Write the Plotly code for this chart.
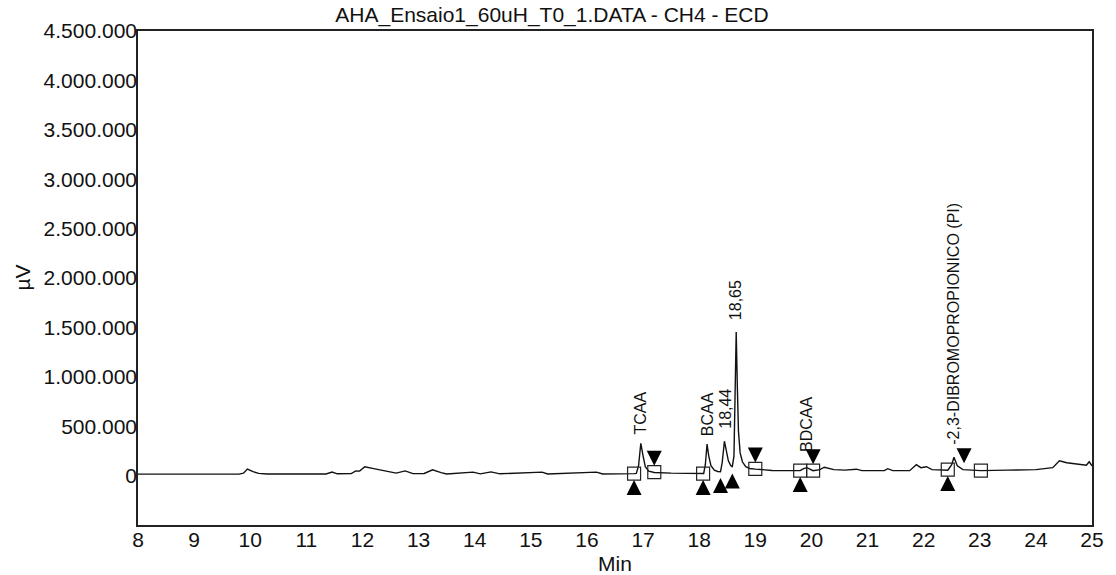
import plotly.graph_objects as go

# Chromatogram trace (time in min, signal in µV)
time_min = [8.00, 9.00, 9.80, 9.88, 9.95, 10.05, 10.15, 10.30, 11.35, 11.46, 11.55, 11.80,
            11.88, 11.95, 12.04, 12.20, 12.40, 12.60, 12.76, 12.90, 13.10, 13.25, 13.40,
            13.50, 13.97, 14.10, 14.29, 14.45, 15.20, 15.30, 16.17, 16.28, 16.84, 16.88,
            16.92, 16.96, 17.00, 17.04, 17.10, 17.20, 17.50, 17.80, 18.07, 18.08, 18.11,
            18.14, 18.17, 18.21, 18.27, 18.33, 18.38, 18.41, 18.45, 18.48, 18.52, 18.56,
            18.59, 18.62, 18.64, 18.66, 18.68, 18.70, 18.73, 18.77, 18.83, 18.90, 19.00,
            19.30, 19.80, 19.86, 19.92, 20.03, 20.15, 20.23, 20.40, 20.60, 20.80, 20.90,
            21.30, 21.36, 21.45, 21.75, 21.87, 21.95, 22.05, 22.15, 22.43, 22.50, 22.54,
            22.60, 22.70, 23.02, 23.50, 24.00, 24.30, 24.42, 24.55, 24.80, 24.90, 24.95,
            25.00]
signal_uv = [15000, 15000, 15000, 25000, 66000, 40000, 22000, 16000, 16000, 36000, 18000, 20000,
             48000, 45000, 90000, 70000, 45000, 25000, 48000, 20000, 22000, 58000, 30000,
             16000, 35000, 18000, 38000, 18000, 35000, 16000, 35000, 16000, 20000, 22000,
             100000, 327000, 200000, 90000, 45000, 32000, 25000, 25000, 20000, 22000, 110000,
             320000, 200000, 100000, 55000, 42000, 40000, 130000, 348000, 250000, 150000, 105000,
             88000, 200000, 800000, 1453000, 900000, 450000, 230000, 140000, 90000, 72000, 66000,
             52000, 50000, 70000, 80000, 50000, 60000, 85000, 60000, 55000, 65000, 50000,
             50000, 70000, 50000, 50000, 110000, 80000, 90000, 60000, 55000, 110000, 185000,
             100000, 60000, 50000, 55000, 60000, 80000, 150000, 130000, 110000, 105000, 140000,
             100000]

# Baseline marks (peak start / end)
square_times = [16.84, 17.20, 18.07, 19.00, 19.80, 20.03, 22.43, 23.02]
square_levels = [20000, 35000, 20000, 68000, 50000, 50000, 60000, 50000]
start_times = [16.84, 18.07, 18.38, 18.59, 19.80, 22.43]
start_levels = [20000, 20000, 40000, 85000, 50000, 60000]
end_times = [17.20, 19.00, 20.03, 22.72]
end_levels = [35000, 68000, 50000, 60000]

# Peak labels
peak_names = ["TCAA", "BCAA", "18,44", "18,65", "BDCAA", "-2,3-DIBROMOPROPIONICO (PI)"]
peak_times = [16.96, 18.16, 18.47, 18.64, 19.90, 22.53]
peak_heights = [327000, 320000, 348000, 1453000, 80000, 185000]
peak_gaps = [7, 6, 10, 10, 14, 11]

y_ticks = [0, 500000, 1000000, 1500000, 2000000, 2500000, 3000000, 3500000, 4000000, 4500000]
x_ticks = list(range(8, 26))

MARK_OFFSET = 65000  # distance of triangle tips from the baseline level (µV)

FONT = "Liberation Sans, Arial, sans-serif"

fig = go.Figure()
fig.add_trace(go.Scatter(x=time_min, y=signal_uv, mode="lines",
                         line=dict(color="#111", width=1.4), hoverinfo="skip"))
fig.add_trace(go.Scatter(x=square_times, y=square_levels, mode="markers",
                         marker=dict(symbol="square-open", size=13, color="#222",
                                     line=dict(width=1.2, color="#222"))))
fig.add_trace(go.Scatter(x=start_times, y=[v - MARK_OFFSET for v in start_levels], mode="markers",
                         marker=dict(symbol="arrow-up", size=15, color="#000",
                                     line=dict(width=0))))
fig.add_trace(go.Scatter(x=end_times, y=[v + MARK_OFFSET for v in end_levels], mode="markers",
                         marker=dict(symbol="arrow-down", size=15, color="#000",
                                     line=dict(width=0))))

for name, t, h, g in zip(peak_names, peak_times, peak_heights, peak_gaps):
    fig.add_annotation(x=t, y=h, text=name, textangle=-90, showarrow=False,
                       xanchor="center", yanchor="bottom", yshift=g,
                       font=dict(family=FONT, size=16, color="#111"))

fig.add_annotation(xref="paper", yref="paper", x=(21 - 138) / 959, y=0.5, text="µV",
                   textangle=-90, showarrow=False, xanchor="center", yanchor="middle",
                   font=dict(family=FONT, size=21, color="#111"))
fig.add_annotation(xref="paper", yref="paper", x=0.5, y=-(563 - 525) / 494, text="Min",
                   showarrow=False, xanchor="center", yanchor="middle",
                   font=dict(family=FONT, size=21, color="#111"))

fig.update_layout(
    width=1116, height=575,
    margin=dict(l=138, r=19, t=31, b=50),
    paper_bgcolor="white", plot_bgcolor="white",
    showlegend=False,
    separators=",.",
    title=dict(text="AHA_Ensaio1_60uH_T0_1.DATA - CH4 - ECD",
               xref="container", yref="container", x=552 / 1116, y=1 - 15 / 575,
               xanchor="center", yanchor="middle",
               font=dict(family=FONT, size=21, color="#111")),
)
fig.update_xaxes(range=[8, 25], tickmode="array", tickvals=x_ticks, ticks="",
                 showgrid=False, zeroline=False, showline=True, mirror=True,
                 linecolor="#222", linewidth=1.5, ticklabelstandoff=-5,
                 tickfont=dict(family=FONT, size=21, color="#111"))
fig.update_yaxes(range=[-500000, 4500000], tickmode="array", tickvals=y_ticks,
                 tickformat=",d", ticks="", showgrid=False, zeroline=False,
                 showline=True, mirror=True, linecolor="#222", linewidth=1.5,
                 ticklabelstandoff=-5,
                 tickfont=dict(family=FONT, size=21, color="#111"))

fig.write_html("out.html")
